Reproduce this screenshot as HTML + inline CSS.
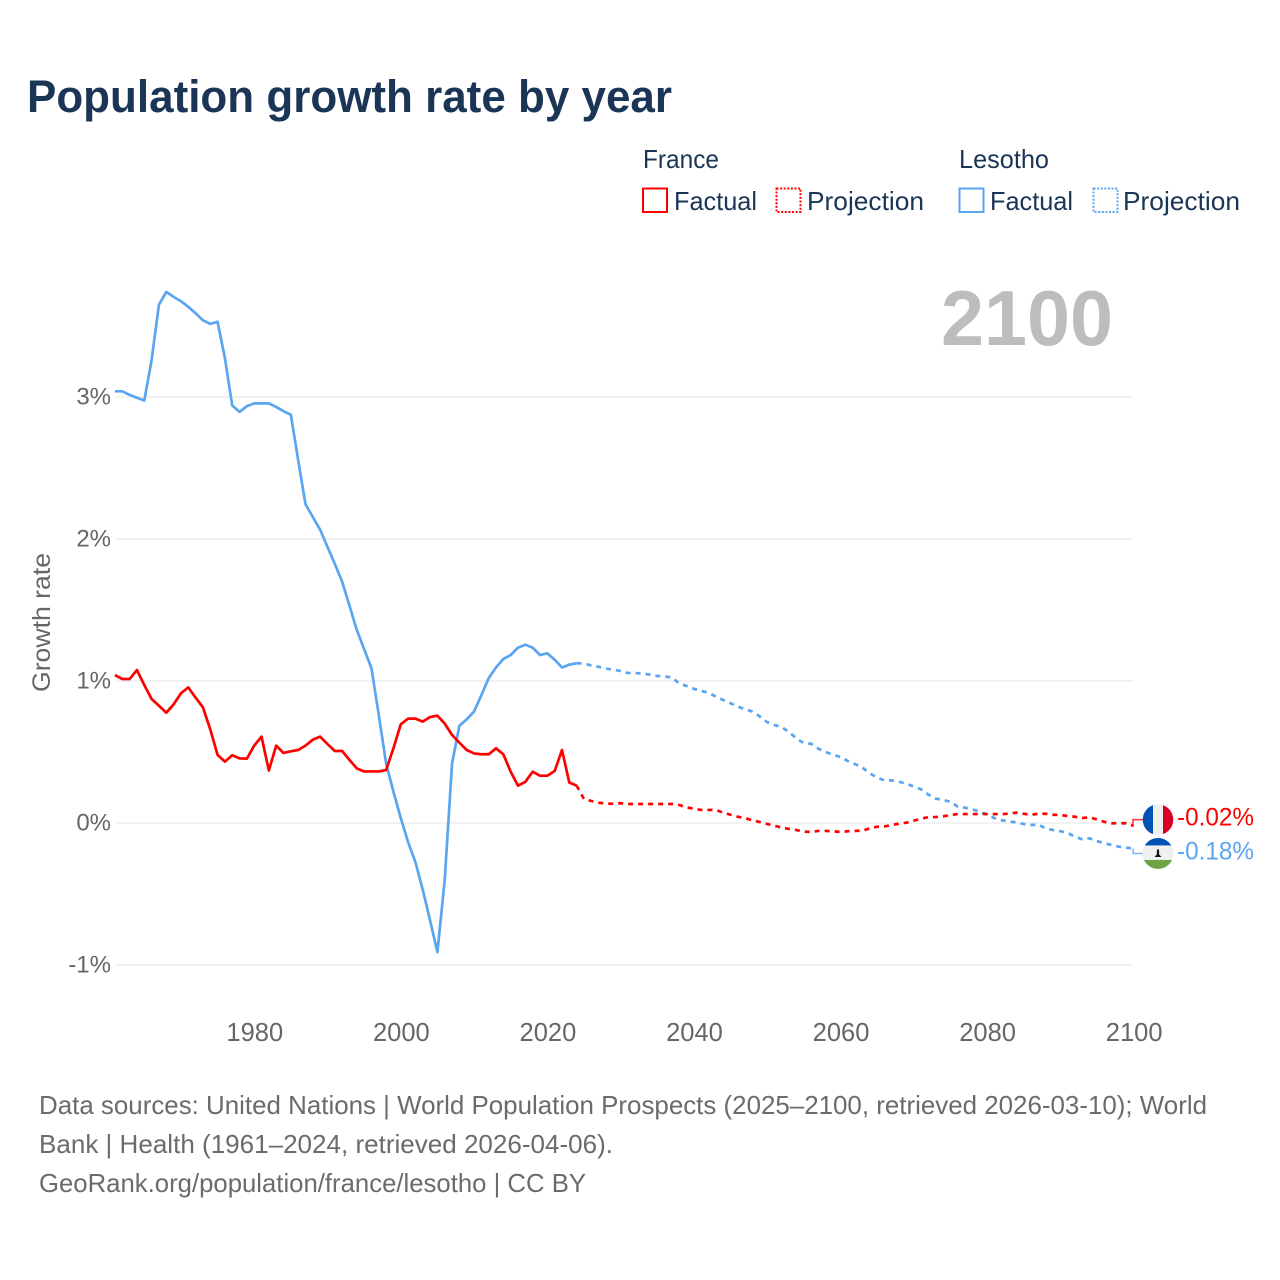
<!DOCTYPE html>
<html lang="en">
<head>
<meta charset="utf-8">
<title>Population growth rate by year</title>
<style>
  html, body { margin: 0; padding: 0; background: #fff; }
  svg { display: block; font-family: "Liberation Sans", sans-serif; }
</style>
</head>
<body>
<svg id="chart" xmlns="http://www.w3.org/2000/svg" width="1280" height="1280" viewBox="0 0 1280 1280">
  <rect x="0" y="0" width="1280" height="1280" fill="#ffffff"/>
  <text x="27" y="112" font-size="45" font-weight="700" fill="#1a3556" textLength="645" lengthAdjust="spacingAndGlyphs">Population growth rate by year</text>

  <g font-size="26" fill="#1a3556">
    <text x="643" y="168" textLength="76" lengthAdjust="spacingAndGlyphs">France</text>
    <text x="959" y="168" textLength="90" lengthAdjust="spacingAndGlyphs">Lesotho</text>
    <rect x="643" y="188.5" width="24" height="23.5" fill="none" stroke="#ff0000" stroke-width="2"/>
    <text x="674" y="210" textLength="83" lengthAdjust="spacingAndGlyphs">Factual</text>
    <rect x="776.5" y="188.5" width="24" height="23.5" fill="none" stroke="#ff0000" stroke-width="2" stroke-dasharray="2 1.6"/>
    <text x="807" y="210" textLength="117" lengthAdjust="spacingAndGlyphs">Projection</text>
    <rect x="959.5" y="188.5" width="24" height="23.5" fill="none" stroke="#5aa5f0" stroke-width="2"/>
    <text x="990" y="210" textLength="83" lengthAdjust="spacingAndGlyphs">Factual</text>
    <rect x="1093.5" y="188.5" width="24" height="23.5" fill="none" stroke="#5aa5f0" stroke-width="2" stroke-dasharray="2 1.6"/>
    <text x="1123" y="210" textLength="117" lengthAdjust="spacingAndGlyphs">Projection</text>
  </g>

  <text x="941" y="345" font-size="78" font-weight="700" fill="#bdbdbd" textLength="172" lengthAdjust="spacingAndGlyphs">2100</text>
  <text transform="translate(50 622.5) rotate(-90)" text-anchor="middle" font-size="25" fill="#666666" textLength="139" lengthAdjust="spacingAndGlyphs">Growth rate</text>

  <g id="grid"></g>
  <g id="y-ticks"></g>
  <g id="x-ticks"></g>
  <g id="series"></g>
  <g id="end-markers"></g>

  <g font-size="26" fill="#6b6b6b">
    <text x="39" y="1114" textLength="1168" lengthAdjust="spacingAndGlyphs">Data sources: United Nations | World Population Prospects (2025–2100, retrieved 2026-03-10); World</text>
    <text x="39" y="1153" textLength="574" lengthAdjust="spacingAndGlyphs">Bank | Health (1961–2024, retrieved 2026-04-06).</text>
    <text x="39" y="1192" textLength="547" lengthAdjust="spacingAndGlyphs">GeoRank.org/population/france/lesotho | CC BY</text>
  </g>
</svg>
<script>
const yTickValues = [3, 2, 1, 0, -1];
const yTickLabels = ['3%', '2%', '1%', '0%', '-1%'];
const xTickValues = [1980, 2000, 2020, 2040, 2060, 2080, 2100];
const xTickLabels = ['1980', '2000', '2020', '2040', '2060', '2080', '2100'];

const factualStartYear = 1961;
const projectionStartYear = 2025;

const franceFactual = [
  1.042, 1.014, 1.014, 1.077, 0.972, 0.873, 0.826, 0.777, 0.835, 0.913,
  0.955, 0.883, 0.815, 0.660, 0.480, 0.432, 0.477, 0.455, 0.453, 0.545,
  0.608, 0.370, 0.545, 0.493, 0.505, 0.514, 0.545, 0.587, 0.608, 0.556,
  0.507, 0.507, 0.444, 0.385, 0.363, 0.363, 0.363, 0.373, 0.526, 0.695,
  0.735, 0.735, 0.714, 0.746, 0.756, 0.700, 0.620, 0.566, 0.514, 0.490,
  0.484, 0.484, 0.526, 0.484, 0.361, 0.263, 0.290, 0.361, 0.333, 0.333,
  0.366, 0.514, 0.285, 0.263
];
const franceProjection = [
  0.169, 0.155, 0.143, 0.137, 0.135, 0.140, 0.134, 0.134, 0.134, 0.134,
  0.134, 0.134, 0.134, 0.127, 0.110, 0.100, 0.092, 0.092, 0.092, 0.073,
  0.058, 0.044, 0.033, 0.020, 0.007, -0.007, -0.019, -0.033, -0.042, -0.050,
  -0.061, -0.063, -0.056, -0.056, -0.058, -0.063, -0.058, -0.056, -0.054, -0.038,
  -0.026, -0.024, -0.014, -0.005, 0.002, 0.016, 0.030, 0.042, 0.042, 0.047,
  0.056, 0.063, 0.063, 0.063, 0.063, 0.063, 0.063, 0.063, 0.065, 0.073,
  0.065, 0.058, 0.065, 0.065, 0.058, 0.056, 0.050, 0.044, 0.035, 0.040,
  0.025, 0.008, -0.002, -0.002, -0.002, -0.020
];
const lesothoFactual = [
  3.040, 3.040, 3.015, 2.995, 2.975, 3.260, 3.650, 3.740, 3.705, 3.675,
  3.635, 3.590, 3.540, 3.515, 3.530, 3.275, 2.940, 2.895, 2.935, 2.955,
  2.955, 2.955, 2.930, 2.900, 2.875, 2.555, 2.245, 2.155, 2.065, 1.945,
  1.825, 1.700, 1.530, 1.360, 1.225, 1.090, 0.760, 0.420, 0.220, 0.035,
  -0.135, -0.275, -0.470, -0.685, -0.910, -0.400, 0.420, 0.685, 0.730, 0.785,
  0.900, 1.020, 1.095, 1.155, 1.183, 1.235, 1.255, 1.235, 1.183, 1.195,
  1.150, 1.095, 1.115, 1.125
];
const lesothoProjection = [
  1.123, 1.110, 1.100, 1.087, 1.080, 1.070, 1.056, 1.056, 1.053, 1.045,
  1.035, 1.032, 1.025, 0.983, 0.965, 0.945, 0.930, 0.917, 0.890, 0.866,
  0.843, 0.820, 0.800, 0.785, 0.750, 0.710, 0.690, 0.675, 0.640, 0.595,
  0.563, 0.558, 0.523, 0.500, 0.480, 0.465, 0.437, 0.415, 0.390, 0.350,
  0.320, 0.300, 0.300, 0.290, 0.277, 0.256, 0.237, 0.200, 0.172, 0.162,
  0.150, 0.115, 0.108, 0.096, 0.080, 0.060, 0.035, 0.020, 0.010, 0.005,
  -0.007, -0.014, -0.010, -0.038, -0.050, -0.058, -0.070, -0.096, -0.115, -0.108,
  -0.127, -0.143, -0.155, -0.167, -0.174, -0.180
];

const SVG_NS = 'http://www.w3.org/2000/svg';
const RED = '#ff0000';
const BLUE = '#5aa5f0';

function xScale(year) { return 254.2 + (year - 1980) * 7.328; }
function yScale(pct) { return 823 - pct * 142; }

function make(tag, attrs, parent) {
  const el = document.createElementNS(SVG_NS, tag);
  for (const key in attrs) el.setAttribute(key, attrs[key]);
  parent.appendChild(el);
  return el;
}

function pathFor(values, startYear, prefixYear, prefixValue) {
  const pts = [];
  if (prefixYear !== undefined) pts.push([xScale(prefixYear), yScale(prefixValue)]);
  values.forEach(function (v, i) { pts.push([xScale(startYear + i), yScale(v)]); });
  return pts.map(function (p, i) { return (i ? 'L' : 'M') + p[0].toFixed(2) + ' ' + p[1].toFixed(2); }).join(' ');
}

const gridGroup = document.getElementById('grid');
const yTickGroup = document.getElementById('y-ticks');
yTickValues.forEach(function (v, i) {
  const line = make('line', { x1: xScale(factualStartYear), x2: xScale(2100), y1: yScale(v), y2: yScale(v), stroke: '#eeeeee', 'stroke-width': 1.6 }, gridGroup);
  
  
  const label = make('text', { x: 111, y: yScale(v) + 7.5, 'text-anchor': 'end', 'font-size': 24, fill: '#666666' }, yTickGroup);
  label.textContent = yTickLabels[i];
  
  
});

const xTickGroup = document.getElementById('x-ticks');
xTickValues.forEach(function (v, i) {
  const label = make('text', { x: xScale(v) + 0.6, y: 1041, 'text-anchor': 'middle', 'font-size': 25.5, fill: '#666666' }, xTickGroup);
  label.textContent = xTickLabels[i];
  
  
});

const seriesGroup = document.getElementById('series');
const common = { fill: 'none', 'stroke-width': 2.7, 'stroke-linejoin': 'round' };

function drawSeries(name, color, factual, projection) {
  const lastFactualYear = factualStartYear + factual.length - 1;
  const solid = make('path', Object.assign({}, common, { d: pathFor(factual, factualStartYear), stroke: color }), seriesGroup);
  
  
  const dashed = make('path', Object.assign({}, common, { d: pathFor(projection, projectionStartYear, lastFactualYear, factual[factual.length - 1]), stroke: color, 'stroke-dasharray': '5 5' }), seriesGroup);
  
  
}
drawSeries('lesotho', BLUE, lesothoFactual, lesothoProjection);
drawSeries('france', RED, franceFactual, franceProjection);

const markerGroup = document.getElementById('end-markers');

function drawEndMarker(name, color, value, flagOffset, drawFlag) {
  const endX = xScale(2100) - 0.6;
  const endY = yScale(value);
  const flagY = endY + flagOffset;
  const leader = make('path', { d: 'M' + endX + ' ' + endY + ' V' + flagY + ' H1145', fill: 'none', stroke: color, 'stroke-width': 1.5, opacity: 0.8 }, markerGroup);
  
  
  const flag = make('g', { transform: 'translate(1158 ' + flagY + ')' }, markerGroup);
  
  
  drawFlag(flag);
  const label = make('text', { x: 1177, y: flagY + 6, 'font-size': 25, fill: color, textLength: 77, lengthAdjust: 'spacingAndGlyphs' }, markerGroup);
  label.textContent = value.toFixed(2) + '%';
  
  
}

function drawFrance(g) {
  const clip = make('clipPath', { id: 'clip-fr' }, g);
  make('circle', { r: 15.3 }, clip);
  const body = make('g', { 'clip-path': 'url(#clip-fr)' }, g);
  make('rect', { x: -16, y: -16, width: 11, height: 32, fill: '#0052b4' }, body);
  make('rect', { x: -5, y: -16, width: 10, height: 32, fill: '#f0f0f0' }, body);
  make('rect', { x: 5, y: -16, width: 11, height: 32, fill: '#d80027' }, body);
}

function drawLesotho(g) {
  const clip = make('clipPath', { id: 'clip-ls' }, g);
  make('circle', { r: 15.5 }, clip);
  const body = make('g', { 'clip-path': 'url(#clip-ls)' }, g);
  make('rect', { x: -16, y: -16, width: 32, height: 8, fill: '#0052b4' }, body);
  make('rect', { x: -16, y: -8, width: 32, height: 14.5, fill: '#f0f0f0' }, body);
  make('rect', { x: -16, y: 6.5, width: 32, height: 10, fill: '#6da544' }, body);
  make('path', { d: 'M-3.5 3.5 L-1.2 1 L-1 -4 L1 -4 L1.2 1 L3.5 3.5 Z', fill: '#111111' }, body);
}

drawEndMarker('france', RED, franceProjection[franceProjection.length - 1], -6.2, drawFrance);
drawEndMarker('lesotho', BLUE, lesothoProjection[lesothoProjection.length - 1], 4.9, drawLesotho);
</script>
</body>
</html>
